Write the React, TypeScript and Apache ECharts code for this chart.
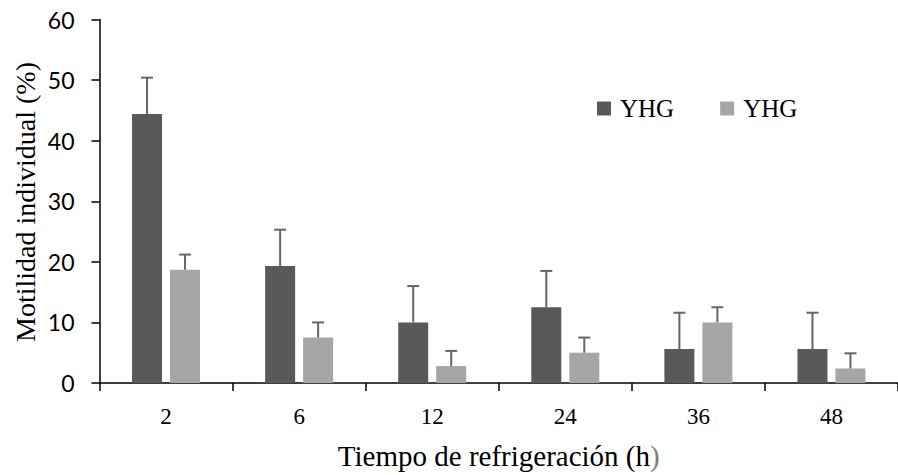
import React, { useEffect, useRef } from "react";
import * as echarts from "echarts";

const categories = ["2", "6", "12", "24", "36", "48"];
const darkValues = [44.4, 19.3, 10.0, 12.5, 5.6, 5.6];
const darkErrors = [6.0, 6.0, 6.0, 6.0, 6.0, 6.0];
const lightValues = [18.7, 7.5, 2.8, 5.0, 10.0, 2.4];
const lightErrors = [2.5, 2.5, 2.5, 2.5, 2.5, 2.5];
const legendLabels = ["YHG", "YHG"];
const yTicks = { min: 0, max: 60, interval: 10 };
const yAxisTitle = "Motilidad individual (%)";

const DARK = "#595959";
const LIGHT = "#a6a6a6";
const ERR = "#666666";
const BAR_W = 30;
const BAR_GAP = 8;
const SERIF = "Liberation Serif";

function errorSeries(values: number[], errors: number[], offset: number) {
  return {
    type: "custom",
    silent: true,
    z: 3,
    data: values.map((v, i) => [i, v, v + errors[i]]),
    renderItem: (_params: any, api: any) => {
      const base = api.coord([api.value(0), api.value(1)]);
      const top = api.coord([api.value(0), api.value(2)]);
      const x = base[0] + offset;
      const style = { stroke: ERR, lineWidth: 2 };
      return {
        type: "group",
        children: [
          { type: "line", shape: { x1: x, y1: base[1], x2: x, y2: top[1] }, style },
          { type: "line", shape: { x1: x - 6, y1: top[1], x2: x + 6, y2: top[1] }, style },
        ],
      };
    },
  };
}

export default function App() {
  const ref = useRef<HTMLDivElement>(null);
  useEffect(() => {
    if (!ref.current) return;
    const chart = echarts.init(ref.current, null, { renderer: "svg" });
    const off = (BAR_W + BAR_GAP) / 2;
    chart.setOption({
      animation: false,
      backgroundColor: "#ffffff",
      grid: { left: 99.5, right: -5.5, top: 19.5, bottom: 91 },
      graphic: [
        {
          type: "text",
          x: 25,
          y: 202,
          rotation: Math.PI / 2,
          style: {
            text: yAxisTitle,
            fontFamily: SERIF,
            fontSize: 28,
            fill: "#000",
            align: "center",
            verticalAlign: "middle",
          },
        },
      ],
      legend: {
        left: 597,
        top: 96,
        padding: 0,
        itemWidth: 14,
        itemHeight: 14,
        itemGap: 46,
        icon: "rect",
        data: ["s1", "s2"],
        formatter: (name: string) => (name === "s1" ? legendLabels[0] : legendLabels[1]),
        textStyle: {
          fontFamily: SERIF,
          fontSize: 25,
          color: "#000",
          padding: [0, 0, 0, 4],
        },
      },
      xAxis: {
        type: "category",
        data: categories,
        name: "{a|Tiempo de refrigeración (h}{b|)}",
        nameLocation: "middle",
        nameGap: 58,
        nameTextStyle: {
          fontFamily: SERIF,
          fontSize: 29,
          rich: {
            a: { fontFamily: SERIF, fontSize: 29, color: "#000" },
            b: { fontFamily: SERIF, fontSize: 29, color: "#808080" },
          },
        },
        axisLine: { lineStyle: { color: "#000", width: 1.5 } },
        axisTick: { show: true, length: 8, alignWithLabel: false, lineStyle: { color: "#000", width: 1.5 } },
        axisLabel: { fontFamily: SERIF, fontSize: 23, color: "#000", margin: 22 },
      },
      yAxis: {
        type: "value",
        min: yTicks.min,
        max: yTicks.max,
        interval: yTicks.interval,
        splitLine: { show: false },
        axisLine: { show: true, lineStyle: { color: "#000", width: 1.5 } },
        axisTick: { show: true, length: 8, lineStyle: { color: "#000", width: 1.5 } },
        axisLabel: { fontFamily: "Lato", fontSize: 23, color: "#000", margin: 25 },
      },
      series: [
        {
          name: "s1",
          type: "bar",
          data: darkValues,
          barWidth: BAR_W,
          barGap: `${(BAR_GAP / BAR_W) * 100}%`,
          itemStyle: { color: DARK },
        },
        {
          name: "s2",
          type: "bar",
          data: lightValues,
          barWidth: BAR_W,
          itemStyle: { color: LIGHT },
        },
        errorSeries(darkValues, darkErrors, -off),
        errorSeries(lightValues, lightErrors, off),
      ],
    });
    return () => chart.dispose();
  }, []);
  return (
    <div
      ref={ref}
      style={{ position: "fixed", left: 0, top: 0, width: 898, height: 475 }}
    />
  );
}
